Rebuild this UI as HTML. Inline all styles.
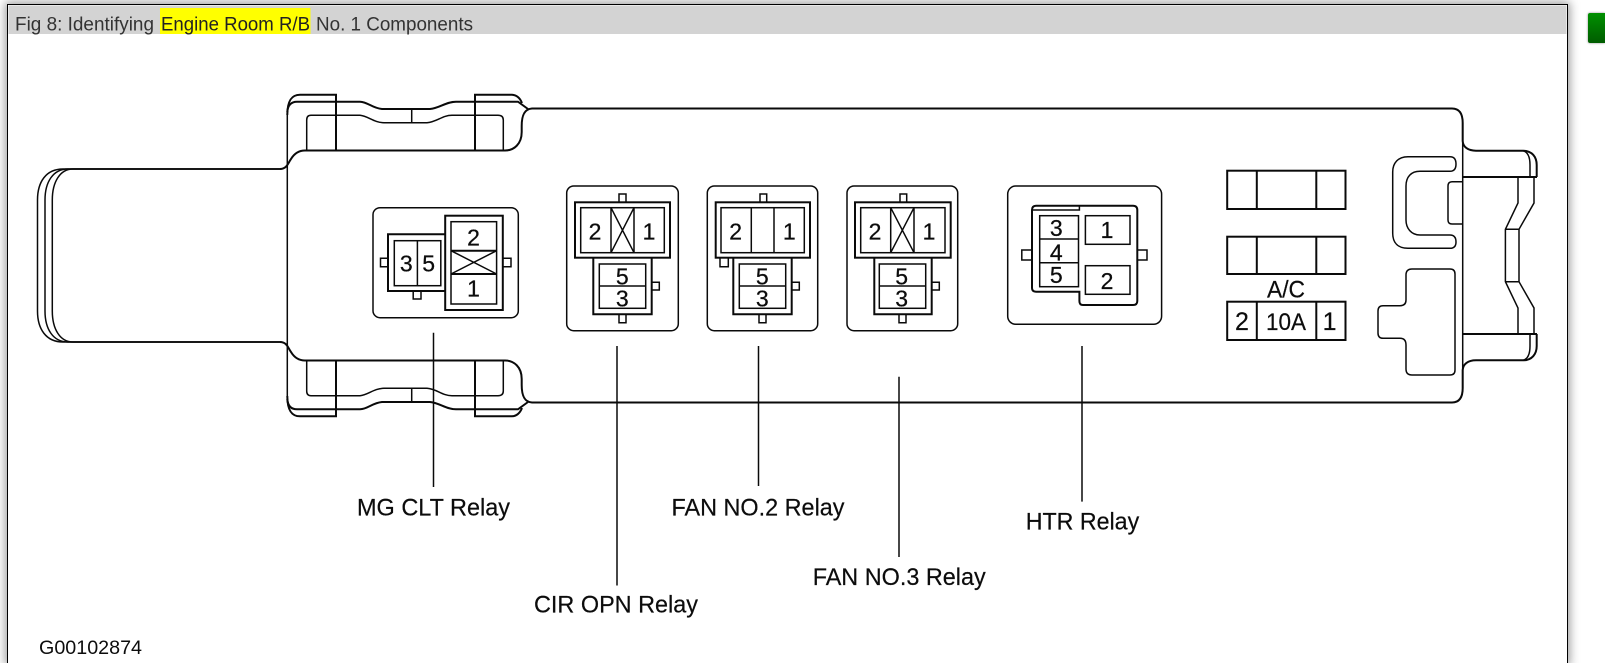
<!DOCTYPE html>
<html>
<head>
<meta charset="utf-8">
<style>
html,body{margin:0;padding:0;width:1605px;height:663px;overflow:hidden;background:#fff}
.wrap{position:relative;width:1605px;height:663px;overflow:hidden;contain:paint}
svg{position:absolute;left:0;top:0;display:block}
.frame{position:absolute;left:7px;top:4px;width:1559px;height:640px;border:1.5px solid #000;background:#fff;box-shadow:0 0 9px 2px rgba(0,0,0,.38);clip-path:none}
.ext{position:absolute;left:7px;top:630px;width:1559px;height:33px;border-left:1.5px solid #000;border-right:1.5px solid #000;background:#fff;box-shadow:0 0 9px 2px rgba(0,0,0,.38);clip-path:inset(0 -20px 0 -20px)}
.btn{position:absolute;left:1588px;top:13px;width:17px;height:30px;border-radius:2px 0 0 2px;background:linear-gradient(#009000,#005c00);box-shadow:0 0 2px #888}
.ln path,.ln rect,.ln line{fill:none;stroke:#0a0a0a;stroke-width:1.5}
.tk{stroke-width:2 !important}
.dg{filter:blur(.3px)}
text{font-family:"Liberation Sans",sans-serif;fill:#0c0c0c}
.d{font-size:23px;text-anchor:middle;stroke:#0c0c0c;stroke-width:.25}
.f{font-size:25px;text-anchor:middle;stroke:#0c0c0c;stroke-width:.2}
.l{font-size:24.5px;stroke:#0c0c0c;stroke-width:.2}
.h{font-size:19.5px;fill:#333}
</style>
</head>
<body>
<div class="wrap">
<div class="frame" style="height:659px;border-bottom:none"></div>
<div class="btn"></div>
<svg width="1605" height="663" viewBox="0 0 1605 663">
<rect x="8.5" y="5.5" width="1558" height="28.5" fill="#d3d3d3"/>
<rect x="160" y="8" width="150.5" height="26" fill="#ffff00"/>
<text class="h" x="15" y="30.7" textLength="139" lengthAdjust="spacingAndGlyphs">Fig 8: Identifying</text>
<text class="h" x="161" y="30.7" textLength="149" lengthAdjust="spacingAndGlyphs" style="fill:#222">Engine Room R/B</text>
<text class="h" x="316" y="30.7" textLength="157" lengthAdjust="spacingAndGlyphs">No. 1 Components</text>

<g class="dg">
<g class="ln">
<defs>
<g id="half">
<path d="M280 169H63C46 169 37.5 182 37.5 200V255.5"/>
<path d="M280 169H68C53 169 45 182 45 200V255.5"/>
<path d="M280 169H73C60 169 52.3 182 52.3 200V255.5"/>
<path class="tk" d="M280 169C287 169 288 163 291 159C294 154 298 150.5 305 150.5H505C514 150.5 521.7 144 521.7 132V126C521.7 116 524 109 532 108.5H1452Q1462.7 108.5 1462.7 123V141C1463 147 1468 150.7 1476 150.7H1523C1532 150.7 1536.7 157 1536.7 165V177"/>
<path d="M1523 150.7C1528 152 1530 158 1530 165V177"/>
<path class="tk" d="M1463 177H1537"/>
<path d="M1462.7 123V255.5"/>
<path d="M287.3 115V255.5"/>
<path class="tk" d="M287.3 115C287.3 100 292 94.7 300 94.7H336V150.5"/>
<path class="tk" d="M287.3 112Q288 101.7 297 101.7H360C368 102 372 108 382 109H430C440 108 446 101.7 456 101.7H518L528 109"/>
<path class="tk" d="M475 150.5V94.7H512C517 95 520 98 522 103"/>
<path d="M306.7 150.5V120Q306.7 115.3 311 115.3H360C368 116 374 122.7 384 122.7H427C437 122 442 115.3 452 115.3H498Q503.3 115.3 503.3 120V150.5"/>
<path d="M411.7 109V122.7"/>
<path d="M1518 177V203L1505.4 229.3V255.5M1534 177V203L1519 229.3V255.5M1505.4 229.3H1519"/>
</g>
</defs>
<use href="#half"/>
<use href="#half" transform="matrix(1 0 0 -1 0 511)"/>

<path d="M1450 156.7H1408C1398 156.7 1392.7 163 1392.7 172V233C1392.7 243 1398 248.3 1408 248.3H1450Q1456 248.3 1456 242Q1456 235 1450 235H1420C1411 235 1406 228 1406 220V186C1406 177 1411 171.3 1420 171.3H1450Q1456 171.3 1456 164Q1456 156.7 1450 156.7Z"/>
<path d="M1462.7 181.7H1452Q1448 181.7 1448 186V220Q1448 224 1452 224H1462.7"/>
<path d="M1412 269H1450Q1455 269 1455 274V370Q1455 375 1450 375H1412Q1406 375 1406 369V345Q1406 338.3 1400 338.3H1383Q1378 338.3 1378 333V311Q1378 305.7 1383 305.7H1400Q1406 305.7 1406 300V275Q1406 269 1412 269Z"/>

<!-- MG CLT -->
<rect x="373" y="207.7" width="145.3" height="110" rx="7"/>
<rect class="tk" x="445.2" y="215.7" width="57.6" height="94.3"/>
<rect x="451" y="221.7" width="45.6" height="82.3"/>
<path class="tk" d="M451 250.7H496.6M451 274H496.6"/>
<path d="M451 250.7L496.6 274M496.6 250.7L451 274"/>
<path class="tk" d="M445.2 234.3H388V291H445.2"/>
<rect x="394.3" y="240.7" width="46.5" height="45"/>
<path d="M417.4 240.7V285.7"/>
<path d="M388 258.3H380.5V266.7H388M502.8 258.3H511V266.7H502.8M413.2 291V299H421V291"/>

<!-- CIR OPN -->
<rect x="566.7" y="186" width="111.6" height="144.7" rx="7"/>
<rect class="tk" x="575" y="202.3" width="95" height="55.4"/>
<rect x="580.7" y="207.7" width="83.6" height="45"/>
<path d="M611 207.7V252.7M634 207.7V252.7M611 207.7L634 252.7M634 207.7L611 252.7"/>
<path class="tk" d="M593.3 257.7V314.3H651.7V257.7"/>
<rect x="599.3" y="264" width="46.4" height="44.3"/>
<path d="M599.3 286H645.7"/>
<path d="M619 202V194H626V202M651.7 282.3H659.3V290H651.7M619 314.3V322.7H626V314.3"/>

<!-- FAN 2 -->
<rect x="707.3" y="186" width="110.4" height="144.7" rx="7"/>
<rect class="tk" x="715.7" y="202.3" width="94.3" height="55.4"/>
<rect x="721" y="207.7" width="83.3" height="45"/>
<path d="M751.3 207.7V252.7M774 207.7V252.7"/>
<path class="tk" d="M733.3 257.7V314.3H791.7V257.7"/>
<rect x="739.3" y="264" width="46.4" height="44.3"/>
<path d="M739.3 286H785.7"/>
<path d="M760 202V194H766.7V202M791.7 282.3H799.3V290H791.7M759 314.3V322.7H766V314.3M720 257.7V266.7H728.3V257.7"/>

<!-- FAN 3 -->
<rect x="847" y="186" width="110.7" height="144.7" rx="7"/>
<rect class="tk" x="855" y="202.3" width="95.7" height="55.4"/>
<rect x="860.7" y="207.7" width="84.3" height="45"/>
<path d="M890.7 207.7V252.7M914 207.7V252.7M890.7 207.7L914 252.7M914 207.7L890.7 252.7"/>
<path class="tk" d="M874.3 257.7V314.3H931.7V257.7"/>
<rect x="879.3" y="264" width="46.4" height="44.3"/>
<path d="M879.3 286H925.7"/>
<path d="M900 202V194H906.7V202M931.7 282.3H939.3V290H931.7M899 314.3V322.7H906V314.3"/>

<!-- HTR -->
<rect x="1007.7" y="186" width="153.9" height="138.3" rx="8"/>
<path class="tk" d="M1036 205.7H1133Q1137.3 205.7 1137.3 210V301Q1137.3 305 1133 305H1083Q1079.4 305 1079.4 301V291.7H1036Q1032 291.7 1032 288V210Q1032 205.7 1036 205.7Z"/>
<path d="M1032 210H1079.4V205.7"/>
<rect x="1039.7" y="215.7" width="38.8" height="71"/>
<path d="M1039.7 239H1078.5M1039.7 262.7H1078.5"/>
<rect x="1085.4" y="215.7" width="44.6" height="28.6"/>
<rect x="1085.4" y="265.7" width="44.6" height="28.6"/>
<path d="M1032 250H1021.8V260H1032M1137.3 250H1147V260H1137.3"/>

<!-- Fuses -->
<rect class="tk" x="1227.2" y="170.7" width="118.3" height="38.3"/>
<path class="tk" d="M1256.8 170.7V209M1316.3 170.7V209"/>
<rect class="tk" x="1227.2" y="236.7" width="118.3" height="37.3"/>
<path class="tk" d="M1256.8 236.7V274M1316.3 236.7V274"/>
<rect class="tk" x="1227.2" y="301.7" width="118.3" height="38.3"/>
<path class="tk" d="M1256.8 301.7V340M1316.3 301.7V340"/>

<!-- Leaders -->
<path d="M433.5 332.7V487M617 346V585.5M758.5 346V486M899 376.7V557M1082 346V501.6"/>
</g>

<text class="d" x="473.5" y="245.5">2</text>
<text class="d" x="473.5" y="296.5">1</text>
<text class="d" x="406.3" y="271.5">3</text>
<text class="d" x="428.7" y="271.5">5</text>

<text class="d" x="595" y="239.5">2</text>
<text class="d" x="649" y="239.5">1</text>
<text class="d" x="622.3" y="284.5">5</text>
<text class="d" x="622.3" y="306.5">3</text>

<text class="d" x="735.7" y="239.5">2</text>
<text class="d" x="789.3" y="239.5">1</text>
<text class="d" x="762.3" y="284.5">5</text>
<text class="d" x="762.3" y="306.5">3</text>

<text class="d" x="875" y="239.5">2</text>
<text class="d" x="929" y="239.5">1</text>
<text class="d" x="901.7" y="284.5">5</text>
<text class="d" x="901.7" y="306.5">3</text>

<text class="d" x="1056.3" y="236">3</text>
<text class="d" x="1056.3" y="260.5">4</text>
<text class="d" x="1056.3" y="283">5</text>
<text class="d" x="1107" y="238">1</text>
<text class="d" x="1107" y="289">2</text>

<text class="l" x="1267" y="297.5" textLength="38" lengthAdjust="spacingAndGlyphs">A/C</text>
<text class="f" x="1242" y="330">2</text>
<text class="l" x="1266" y="330" textLength="40" lengthAdjust="spacingAndGlyphs">10A</text>
<text class="f" x="1329.6" y="330">1</text>

<text class="l" x="357" y="515.5" textLength="153" lengthAdjust="spacingAndGlyphs">MG CLT Relay</text>
<text class="l" x="534" y="612.7" textLength="164" lengthAdjust="spacingAndGlyphs">CIR OPN Relay</text>
<text class="l" x="671.5" y="515.5" textLength="173" lengthAdjust="spacingAndGlyphs">FAN NO.2 Relay</text>
<text class="l" x="812.7" y="585" textLength="173" lengthAdjust="spacingAndGlyphs">FAN NO.3 Relay</text>
<text class="l" x="1025.7" y="529.5" textLength="113.5" lengthAdjust="spacingAndGlyphs">HTR Relay</text>
<text x="39" y="654" font-size="19.5" textLength="103" lengthAdjust="spacingAndGlyphs">G00102874</text>
</g>
</svg>
</div>
</body>
</html>
